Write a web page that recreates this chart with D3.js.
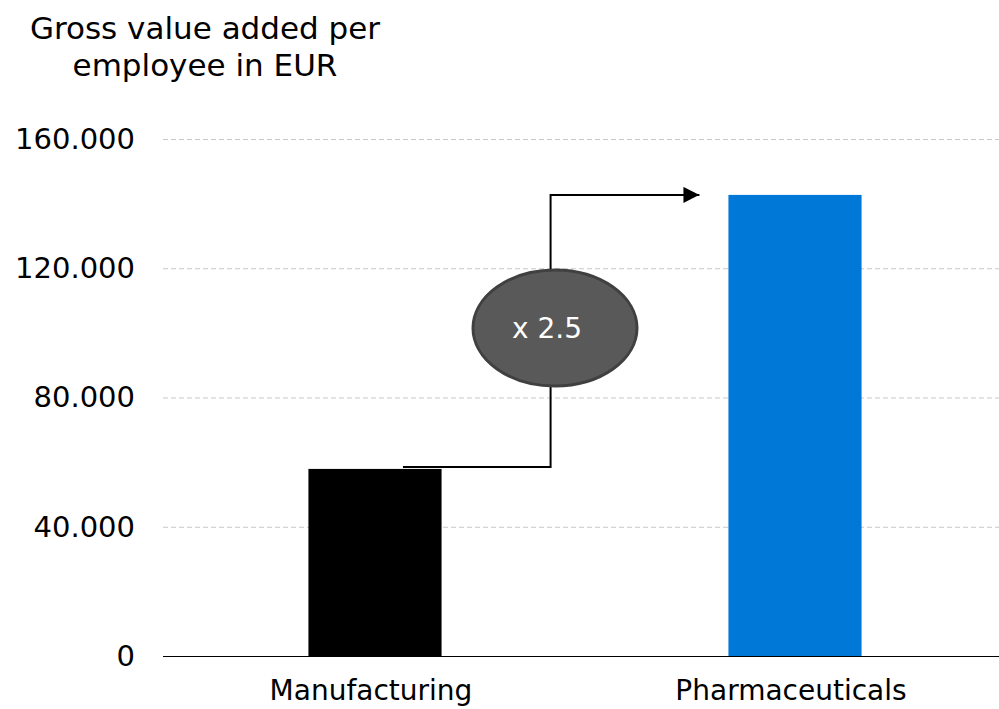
<!DOCTYPE html>
<html>
<head>
<meta charset="utf-8">
<script src="https://cdnjs.cloudflare.com/ajax/libs/d3/7.8.5/d3.min.js"></script>
<style>
  body { margin: 0; background: #fff; }
  text { font-family: "DejaVu Sans", Verdana, sans-serif; }
</style>
</head>
<body>
<script>
// data
var categories = ["Manufacturing", "Pharmaceuticals"];
var values = [57900, 142700];
var barColors = ["#000000", "#0078d7"];
var yTicks = [0, 40000, 80000, 120000, 160000];
var ratioLabel = "x 2.5";
var titleLines = ["Gross value added per", "employee in EUR"];

var width = 999, height = 709;
var plotLeft = 163, plotRight = 999, plotTop = 139, plotBottom = 656;

var svg = d3.select("body").append("svg")
    .attr("width", width)
    .attr("height", height);

// german style thousands separator
var de = d3.formatLocale({decimal: ",", thousands: ".", grouping: [3], currency: ["", " €"]});
var fmt = de.format(",");

var y = d3.scaleLinear().domain([0, 160000]).range([plotBottom, plotTop]);
var x = d3.scaleBand().domain(categories)
    .range([165, 1005])
    .paddingInner(0.683)
    .paddingOuter(0.3415);

//gridlines + tick labels
var yAxis = svg.append("g")
    .attr("transform", "translate(" + plotLeft + ",0)")
    .call(d3.axisLeft(y).tickValues(yTicks).tickFormat(fmt)
          .tickSize(-(plotRight - plotLeft)).tickPadding(28));
yAxis.select(".domain").remove();
yAxis.selectAll(".tick line")
    .attr("stroke", "#c8c8c8")
    .attr("stroke-dasharray", "5,3");
yAxis.selectAll(".tick text")
    .attr("font-size", "29px")
    .attr("fill", "#000");

// bars
svg.selectAll("rect.bar")
    .data(categories)
    .enter()
    .append("rect")
    .attr("class", "bar")
    .attr("x", function(d) { return x(d); })
    .attr("y", function(d, i) { return y(values[i]); })
    .attr("width", x.bandwidth())
    .attr("height", function(d, i) { return plotBottom - y(values[i]); })
    .attr("fill", function(d, i) { return barColors[i]; });

// baseline
svg.append("line")
    .attr("x1", plotLeft).attr("x2", plotRight)
    .attr("y1", y(0) + 0.5).attr("y2", y(0) + 0.5)
    .attr("stroke", "#000")
    .attr("stroke-width", 1.2);

// category labels
svg.selectAll("text.cat")
    .data(categories)
    .enter()
    .append("text")
    .attr("class", "cat")
    .attr("x", function(d) { return x(d) + x.bandwidth() / 2 - 4; })
    .attr("y", 700)
    .attr("text-anchor", "middle")
    .attr("font-size", "28px")
    .text(function(d) { return d; });

// title
svg.append("text")
    .attr("x", 205)
    .attr("text-anchor", "middle")
    .attr("font-size", "31px")
    .selectAll("tspan")
    .data(titleLines)
    .enter()
    .append("tspan")
    .attr("x", 205)
    .attr("y", function(d, i) { return 39 + i * 37; })
    .text(function(d) { return d; });

// connector arrow
svg.append("defs").append("marker")
    .attr("id", "arrow")
    .attr("viewBox", "0 0 10 10")
    .attr("refX", 10).attr("refY", 5)
    .attr("markerWidth", 8).attr("markerHeight", 8)
    .attr("markerUnits", "strokeWidth")
    .attr("orient", "auto")
    .append("path")
    .attr("d", "M0,0 L10,5 L0,10 Z")
    .attr("fill", "#000");

var mfgRight = x(categories[0]) + x.bandwidth();
var phLeft = x(categories[1]);
var x0 = x(categories[0]) + x.bandwidth() * 0.71;
var xm = mfgRight + (phLeft - mfgRight) * 0.38;
var x1 = phLeft - 29;
var y0 = y(values[0]) - 2, y1 = y(values[1]);

svg.append("path")
    .attr("d", "M" + x0 + "," + y0 + " H" + xm + " V" + y1 + " H" + x1)
    .attr("fill", "none")
    .attr("stroke", "#000")
    .attr("stroke-width", 2)
    .attr("marker-end", "url(#arrow)");

// ratio bubble
svg.append("ellipse")
    .attr("cx", 555).attr("cy", 328)
    .attr("rx", 82).attr("ry", 58)
    .attr("fill", "#595959")
    .attr("stroke", "#404040")
    .attr("stroke-width", 3);
svg.append("text")
    .attr("x", 547).attr("y", 338)
    .attr("text-anchor", "middle")
    .attr("font-size", "28px")
    .attr("fill", "#fff")
    .text(ratioLabel);
</script>
</body>
</html>
